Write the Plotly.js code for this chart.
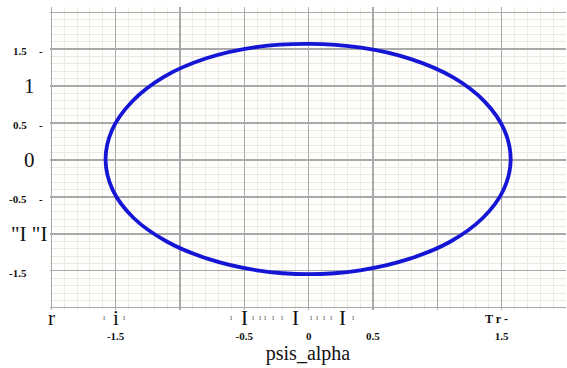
<!DOCTYPE html>
<html>
<head>
<meta charset="utf-8">
<script src="https://cdn.plot.ly/plotly-3.0.1.min.js"></script>
<style>
  html, body { margin: 0; padding: 0; background: #ffffff; }
  #chart { width: 567px; height: 368px; }
</style>
</head>
<body>
<div id="chart"></div>
<script>
// Phase trajectory traced counter-clockwise from the rightmost point (every ~15 degrees)
const psisAlpha = [1.570, 1.520, 1.368, 1.120, 0.790, 0.408, 0.000, -0.410, -0.795,
  -1.125, -1.372, -1.527, -1.578, -1.522, -1.360, -1.103, -0.775, -0.400,
  0.000, 0.400, 0.775, 1.103, 1.355, 1.514, 1.570];
const psisBeta = [0.000, 0.408, 0.790, 1.120, 1.368, 1.520, 1.572, 1.528, 1.376,
  1.125, 0.792, 0.409, 0.000, -0.408, -0.785, -1.103, -1.342, -1.493,
  -1.545, -1.493, -1.342, -1.103, -0.782, -0.406, 0.000];

// Axis grid positions and the labels printed under the x axis
const gridVals = [-2, -1.5, -1, -0.5, 0, 0.5, 1, 1.5, 2];
const xTickText = ['', '-1.5', '', '-0.5', '0', '0.5', '', '1.5', ''];

// Labels beside the y axis
const yLabelVals = [1.5, 1, 0.5, 0, -0.5, -1, -1.5];
const yLabelText = ['1.5', '1', '0.5', '0', '-0.5', '"I "I', '-1.5'];
const yLabelBig = [false, true, false, true, false, true, false];
const yLabelDash = [true, false, true, false, true, false, false];

// Glyphs along the x axis row just below the plot
const xGlyphVals = [-2.0, -1.59, -1.5, -1.43, -0.6, -0.5, -0.425, -0.378, -0.332, -0.277,
  -0.207, -0.106, 0.026, 0.072, 0.127, 0.181, 0.266, 0.352, 1.46];
const xGlyphText = ['r', 'ı', 'i', 'ı', 'ı', 'I', 'ı', 'ı', 'ı', 'ı',
  'ı', 'I', 'ı', 'ı', 'ı', 'ı', 'I', 'ı', 'T r -'];

const serif = '"Liberation Serif", "Times New Roman", serif';
const W = 567, H = 368, ML = 50, MR = 1, MT = 7, MB = 58;
const plotW = W - ML - MR, plotH = H - MT - MB;

const annotations = [];

yLabelVals.forEach((v, i) => {
  if (yLabelBig[i]) {
    annotations.push({
      xref: 'paper', yref: 'y', x: (29 - ML) / plotW, y: v,
      xanchor: 'center', yanchor: 'middle', showarrow: false,
      text: yLabelText[i], font: { family: serif, size: 21, color: '#111' }
    });
  } else {
    annotations.push({
      xref: 'paper', yref: 'y', x: (29 - ML) / plotW, y: v, yshift: -2,
      xanchor: 'right', yanchor: 'middle', showarrow: false,
      text: '<b>' + yLabelText[i] + '</b>', font: { family: serif, size: 11, color: '#111' }
    });
  }
  if (yLabelDash[i]) {
    annotations.push({
      xref: 'paper', yref: 'y', x: (41 - ML) / plotW, y: v, yshift: -2,
      xanchor: 'center', yanchor: 'middle', showarrow: false,
      text: '<b>-</b>', font: { family: serif, size: 11, color: '#111' }
    });
  }
});

xGlyphVals.forEach((v, i) => {
  const t = xGlyphText[i];
  let size = 21, py = 318, txt = t, color = '#111';
  if (t === 'ı') { size = 8; py = 317; color = '#555'; }
  if (t === 'T r -') { size = 12; py = 319; txt = '<b>' + t + '</b>'; }
  annotations.push({
    xref: 'x', yref: 'paper', x: v, y: (plotH + MT - py) / plotH,
    xanchor: 'center', yanchor: 'middle', showarrow: false,
    text: txt, font: { family: serif, size: size, color: color }
  });
});

const trace = {
  x: psisAlpha, y: psisBeta,
  type: 'scatter', mode: 'lines',
  line: { color: '#1515d6', width: 3.8, shape: 'spline', smoothing: 1 },
  hoverinfo: 'skip'
};

const axisCommon = {
  showline: false, zeroline: false, ticks: '',
  gridcolor: '#a9a9a9', gridwidth: 1.3,
  minor: { tickmode: 'linear', tick0: 0, dtick: 0.1, showgrid: true, gridcolor: '#ebe9e1', gridwidth: 1 }
};

const layout = {
  width: W, height: H,
  margin: { l: ML, r: MR, t: MT, b: MB },
  paper_bgcolor: '#ffffff', plot_bgcolor: '#fefefc',
  showlegend: false,
  xaxis: Object.assign({}, axisCommon, {
    range: [-2.01, 2.0],
    tickmode: 'array', tickvals: gridVals,
    ticktext: xTickText.map(t => t ? '<b>' + t + '</b>' : ''),
    tickfont: { family: serif, size: 11, color: '#111' },
    ticklabelstandoff: 18,
    title: { text: 'psis_alpha', font: { family: serif, size: 20, color: '#111' }, standoff: 2 }
  }),
  yaxis: Object.assign({}, axisCommon, {
    range: [-2.03, 2.07],
    tickmode: 'array', tickvals: gridVals,
    showticklabels: false
  }),
  annotations: annotations
};

Plotly.newPlot('chart', [trace], layout, { staticPlot: true, displayModeBar: false });
</script>
</body>
</html>
